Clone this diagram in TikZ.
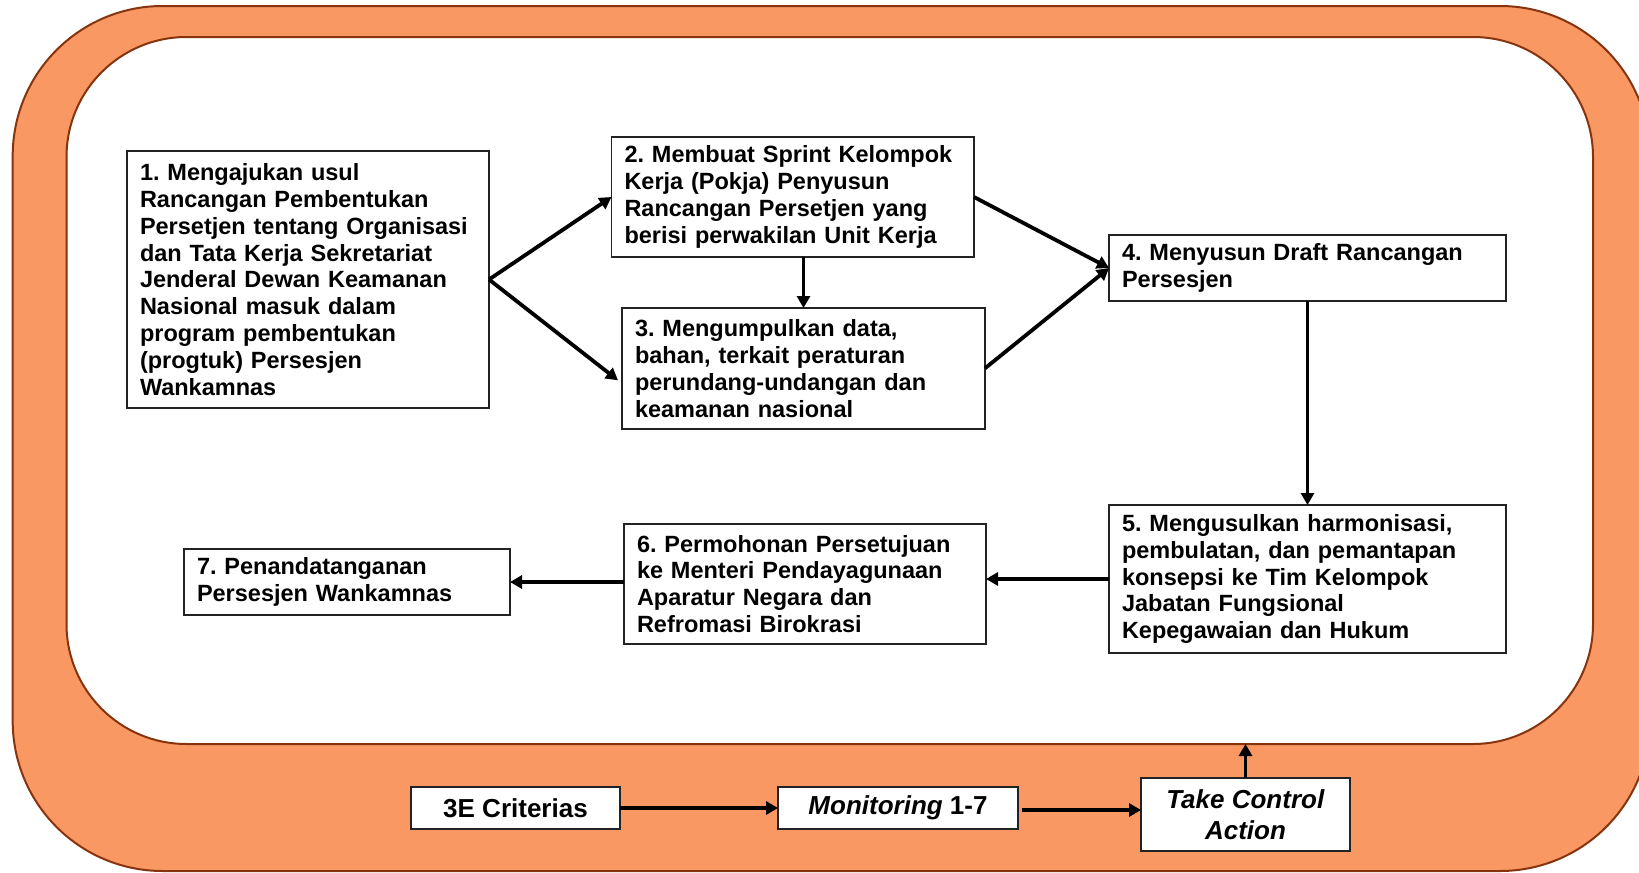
\documentclass[tikz,border=0pt]{standalone}
\usepackage{fontspec}
\setmainfont{Liberation Sans}
\usetikzlibrary{arrows.meta,calc}
\definecolor{orfill}{RGB}{250,152,100}
\definecolor{orline}{RGB}{135,52,14}
\definecolor{boxline}{RGB}{35,35,35}
\frenchspacing
\begin{document}
\begin{tikzpicture}[x=1pt,y=-1pt,
  frameo/.style={draw=orline, line width=2, fill=orfill, rounded corners=150, inner sep=0, outer sep=0},
  framei/.style={draw=orline, line width=2, fill=white, rounded corners=120, inner sep=0, outer sep=0},
  box/.style={draw=boxline, line width=1.8, fill=white, inner xsep=13, inner ysep=0, outer sep=0,
    font=\fontsize{23.5}{26.9}\selectfont\bfseries, align=left},
  bbox/.style={draw=boxline, line width=1.8, fill=white, inner sep=0, outer sep=0,
    font=\fontsize{26}{30.5}\selectfont\bfseries, align=center},
  arr/.style={line width=3.8, draw=black, -{Triangle[length=12,width=13]}}]
\useasboundingbox (0,0) rectangle (1639,873);
\clip (0,0) rectangle (1639,873);
% frames
\node[frameo, minimum width=1637.3, minimum height=865] (outer) at (831.35,438.5) {};
\node[framei, minimum width=1526.5, minimum height=707] (inner) at (829.75,390.5) {};
% process boxes
\node[box, minimum width=362, minimum height=257, text width=336] (b1) at (308,279.5)
 {1. Mengajukan usul\\Rancangan Pembentukan\\Persetjen tentang Organisasi\\dan Tata Kerja Sekretariat\\Jenderal Dewan Keamanan\\Nasional masuk dalam\\program pembentukan\\(progtuk) Persesjen\\Wankamnas};
\node[box, minimum width=362.5, minimum height=120, text width=336.5] (b2) at (792.75,197)
 {2. Membuat Sprint Kelompok\\Kerja (Pokja) Penyusun\\Rancangan Persetjen yang\\berisi perwakilan Unit Kerja};
\node[box, minimum width=363, minimum height=120.6, text width=337] (b3) at (803.5,368.3)
 {3. Mengumpulkan data,\\bahan, terkait peraturan\\perundang-undangan dan\\keamanan nasional};
\node[box, minimum width=397, minimum height=66, text width=371] (b4) at (1307.5,268)
 {4. Menyusun Draft Rancangan\\Persesjen};
\node[box, minimum width=397, minimum height=148, text width=371] (b5) at (1307.5,579)
 {5. Mengusulkan harmonisasi,\\pembulatan, dan pemantapan\\konsepsi ke Tim Kelompok\\Jabatan Fungsional\\Kepegawaian dan Hukum};
\node[box, minimum width=362, minimum height=120, text width=336] (b6) at (805,584)
 {6. Permohonan Persetujuan\\ke Menteri Pendayagunaan\\Aparatur Negara dan\\Refromasi Birokrasi};
\node[box, minimum width=326, minimum height=66, text width=300] (b7) at (347,582)
 {7. Penandatanganan\\Persesjen Wankamnas};
% control boxes
\node[bbox, minimum width=209, minimum height=42] (e3) at (515.5,808) {3E Criterias};
\node[bbox, minimum width=240, minimum height=42] (mon) at (898,808) {\textit{Monitoring} 1-7};
\node[bbox, minimum width=209, minimum height=73] (tca) at (1245.5,814.5) {\textit{Take Control}\\\textit{Action}};
% connectors
\draw[arr] (b1.east) -- (b2.west);
\draw[arr] (b1.east) -- ($(b3.west)+(-4,12)$);
\draw[arr] (b3.north |- b2.south) -- (b3.north);
\draw[arr] (b2.east) -- (b4.west);
\draw[arr] (b3.east) -- (b4.west);
\draw[arr] (b4.south) -- (b5.north);
\draw[arr] (b5.west) -- (b5.west -| b6.east);
\draw[arr] (b7.east -| b6.west) -- (b7.east);
\draw[arr] (e3.east) -- (mon.west);
\draw[arr] ($(mon.east)+(4,2)$) -- ($(mon.east -| tca.west)+(0,2)$);
\draw[arr] (tca.north) -- (tca.north |- inner.south);
\end{tikzpicture}
\end{document}
